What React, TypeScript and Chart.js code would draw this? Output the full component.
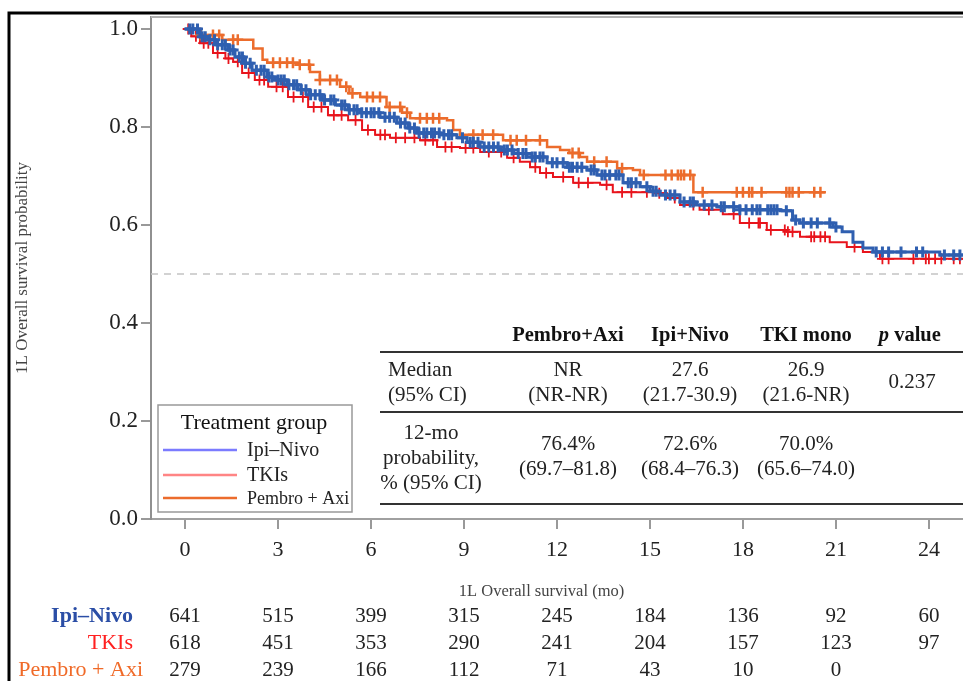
import React, { useEffect, useRef } from "react";
import { Chart, registerables } from "chart.js";
Chart.register(...registerables);

const FONT = "'Liberation Serif', 'Times New Roman', serif";

const SERIES_LABELS = ["Ipi–Nivo", "TKIs", "Pembro + Axi"];
const SERIES_COLORS = ["#2f5fb0", "#e8141c", "#ec6c2c"];
const LEGEND_COLORS = ["#7b7bff", "#ff8585", "#ec6c2c"];
const RISK_COLORS = ["#2b4ea6", "#ff2020", "#f06a28"];
const RISK_BOLD = [true, false, false];

const X_TICKS = [0, 3, 6, 9, 12, 15, 18, 21, 24];
const Y_TICKS = [0, 0.2, 0.4, 0.6, 0.8, 1.0];
const Y_TICK_LABELS = ["0.0", "0.2", "0.4", "0.6", "0.8", "1.0"];
const MEDIAN_LEVEL = 0.5;

// Kaplan-Meier steps (time in months, survival after the drop)
const IPI_T = [0, 0.48, 0.74, 1.0, 1.39, 1.61, 1.9, 2.16, 2.65, 2.9, 3.3, 3.65, 4.0, 4.42, 4.85, 5.26, 5.65, 6.29, 6.84, 7.2, 7.48, 8.23, 8.77, 9.1, 9.52, 10.16, 10.6, 11.03, 11.68, 12.32, 12.97, 13.29, 14.13, 14.68, 15.0, 15.32, 15.97, 16.5, 17.16, 17.9, 19.2, 19.6, 19.84, 20.9, 21.2, 21.55, 21.87, 22.2, 24.35, 25.1];
const IPI_S = [1.0, 0.984, 0.978, 0.968, 0.957, 0.943, 0.93, 0.916, 0.902, 0.896, 0.886, 0.876, 0.866, 0.855, 0.845, 0.835, 0.829, 0.82, 0.808, 0.798, 0.788, 0.784, 0.778, 0.769, 0.759, 0.753, 0.746, 0.739, 0.727, 0.718, 0.712, 0.702, 0.686, 0.678, 0.669, 0.661, 0.647, 0.641, 0.637, 0.631, 0.629, 0.61, 0.604, 0.596, 0.586, 0.565, 0.553, 0.545, 0.539, 0.539];

const TKI_T = [0, 0.2, 0.48, 0.9, 1.3, 1.55, 1.84, 2.25, 2.68, 3.32, 3.97, 4.61, 5.26, 5.71, 6.13, 6.61, 7.58, 8.13, 8.87, 9.52, 10.39, 10.8, 11.13, 11.45, 11.87, 12.52, 13.39, 13.8, 15.1, 15.55, 15.97, 16.6, 17.35, 17.9, 18.77, 19.42, 19.84, 20.8, 21.35, 21.87, 22.42, 25.1];
const TKI_S = [1.0, 0.985, 0.971, 0.951, 0.94, 0.933, 0.91, 0.896, 0.882, 0.861, 0.841, 0.824, 0.814, 0.794, 0.784, 0.778, 0.773, 0.759, 0.757, 0.749, 0.737, 0.729, 0.718, 0.706, 0.698, 0.686, 0.682, 0.667, 0.665, 0.655, 0.641, 0.631, 0.622, 0.604, 0.59, 0.586, 0.576, 0.565, 0.555, 0.545, 0.531, 0.531];

const PEM_T = [0, 0.5, 1.2, 2.2, 2.5, 2.65, 3.7, 4.03, 4.35, 5.0, 5.3, 5.65, 6.5, 7.0, 7.26, 8.45, 8.65, 8.87, 10.26, 11.68, 12.1, 12.4, 12.74, 12.97, 13.94, 14.45, 14.68, 16.4, 20.65];
const PEM_S = [1.0, 0.988, 0.978, 0.96, 0.937, 0.931, 0.927, 0.912, 0.896, 0.882, 0.869, 0.861, 0.841, 0.829, 0.818, 0.814, 0.794, 0.784, 0.773, 0.759, 0.753, 0.747, 0.739, 0.729, 0.716, 0.712, 0.702, 0.667, 0.667];

// Censoring times (months)
const IPI_CENS = [0.15, 0.25, 0.4, 0.55, 0.65, 0.8, 0.95, 1.05, 1.2, 1.3, 1.45, 1.55, 1.75, 1.85, 1.95, 2.1, 2.3, 2.45, 2.55, 2.7, 2.8, 3.0, 3.1, 3.2, 3.35, 3.5, 3.6, 3.75, 3.9, 4.05, 4.2, 4.35, 4.5, 4.7, 4.8, 5.05, 5.15, 5.3, 5.45, 5.55, 5.7, 5.85, 6.0, 6.1, 6.25, 6.45, 6.6, 6.75, 6.95, 7.1, 7.25, 7.4, 7.55, 7.7, 7.8, 7.95, 8.05, 8.2, 8.35, 8.5, 8.6, 8.95, 9.2, 9.3, 9.45, 9.65, 9.8, 9.95, 10.1, 10.3, 10.4, 10.55, 10.75, 10.9, 11.0, 11.2, 11.3, 11.45, 11.55, 11.85, 12.0, 12.2, 12.4, 12.5, 12.65, 12.8, 13.1, 13.2, 13.45, 13.55, 13.7, 13.9, 14.0, 14.3, 14.4, 14.55, 14.9, 15.1, 15.2, 15.5, 15.65, 15.8, 16.1, 16.3, 16.4, 16.75, 17.0, 17.3, 17.4, 17.7, 17.9, 18.1, 18.3, 18.45, 18.55, 18.8, 18.9, 19.0, 19.1, 19.4, 19.7, 19.95, 20.2, 20.4, 20.8, 21.0, 22.3, 22.5, 22.7, 23.1, 23.6, 23.8, 24.5, 24.8, 25.0];
const TKI_CENS = [0.1, 0.35, 0.6, 0.75, 1.05, 1.4, 1.7, 2.05, 2.4, 2.55, 2.95, 3.15, 3.5, 3.8, 4.15, 4.4, 4.8, 5.05, 5.5, 5.9, 6.3, 6.45, 6.8, 7.1, 7.4, 7.75, 8.0, 8.4, 8.6, 9.05, 9.3, 9.8, 10.2, 10.6, 11.3, 11.65, 12.2, 12.7, 13.0, 13.6, 14.1, 14.4, 14.9, 15.3, 15.8, 16.4, 16.9, 17.7, 18.2, 18.5, 18.55, 18.9, 19.35, 19.45, 19.6, 20.2, 20.3, 20.5, 20.65, 21.6, 22.5, 22.7, 23.5, 23.9, 24.0, 24.2, 24.4, 24.8, 25.0];
const PEM_CENS = [0.5, 0.9, 1.1, 1.55, 1.7, 2.84, 3.06, 3.29, 3.48, 3.7, 4.0, 4.35, 4.68, 4.9, 5.2, 5.4, 5.87, 6.06, 6.29, 6.6, 6.94, 7.16, 7.58, 7.8, 8.0, 8.2, 9.3, 9.6, 9.94, 10.5, 10.7, 11.0, 11.45, 12.5, 12.7, 13.2, 13.6, 14.1, 14.8, 15.5, 15.7, 15.9, 16.0, 16.1, 16.3, 16.7, 17.8, 18.0, 18.2, 18.3, 18.6, 19.4, 19.5, 19.6, 19.8, 20.3, 20.5];

// Numbers at risk
const RISK_LABELS = ["Ipi–Nivo", "TKIs", "Pembro + Axi"];
const RISK_IPI = ["641", "515", "399", "315", "245", "184", "136", "92", "60"];
const RISK_TKI = ["618", "451", "353", "290", "241", "204", "157", "123", "97"];
const RISK_PEM = ["279", "239", "166", "112", "71", "43", "10", "0", ""];

// Summary table
const TABLE_HEADERS = ["Pembro+Axi", "Ipi+Nivo", "TKI mono"];
const MEDIAN_VALUES = ["NR", "27.6", "26.9"];
const MEDIAN_CI = ["(NR-NR)", "(21.7-30.9)", "(21.6-NR)"];
const P_VALUE = "0.237";
const PROB_VALUES = ["76.4%", "72.6%", "70.0%"];
const PROB_CI = ["(69.7–81.8)", "(68.4–76.3)", "(65.6–74.0)"];

function stepAt(times: number[], vals: number[], t: number) {
  let v = vals[0];
  for (let i = 0; i < times.length; i++) {
    if (times[i] <= t) v = vals[i];
    else break;
  }
  return v;
}

const overlay = {
  id: "overlay",
  beforeDraw(chart: any) {
    const ctx = chart.ctx;
    ctx.save();
    ctx.fillStyle = "#fff";
    ctx.fillRect(0, 0, chart.width, chart.height);
    ctx.restore();
  },
  beforeDatasetsDraw(chart: any) {
    const { ctx, chartArea: ca, scales } = chart;
    const yy = scales.y.getPixelForValue(MEDIAN_LEVEL);
    ctx.save();
    ctx.setLineDash([7, 6]);
    ctx.strokeStyle = "#c4c4c4";
    ctx.lineWidth = 1.5;
    ctx.beginPath();
    ctx.moveTo(ca.left, yy);
    ctx.lineTo(ca.right, yy);
    ctx.stroke();
    ctx.restore();
  },
  afterDraw(chart: any) {
    const { ctx, chartArea: ca, scales } = chart;
    const x = scales.x;
    ctx.save();
    // outer frame
    ctx.strokeStyle = "#000";
    ctx.lineWidth = 3;
    ctx.beginPath();
    ctx.moveTo(9, chart.height);
    ctx.lineTo(9, 13);
    ctx.lineTo(chart.width, 13);
    ctx.stroke();
    // plot top line
    ctx.strokeStyle = "#b0b0b0";
    ctx.lineWidth = 2;
    ctx.beginPath();
    ctx.moveTo(ca.left, ca.top);
    ctx.lineTo(ca.right, ca.top);
    ctx.stroke();

    // legend box
    ctx.fillStyle = "#fff";
    ctx.fillRect(158, 405, 194, 107);
    ctx.strokeStyle = "#999";
    ctx.lineWidth = 1.5;
    ctx.strokeRect(158, 405, 194, 107);
    ctx.fillStyle = "#111";
    ctx.textBaseline = "middle";
    ctx.textAlign = "center";
    ctx.font = `22px ${FONT}`;
    ctx.fillText("Treatment group", 254, 423);
    const ly = [450, 475, 498];
    const lsize = [20, 20, 18];
    SERIES_LABELS.forEach((lab, i) => {
      ctx.strokeStyle = LEGEND_COLORS[i];
      ctx.lineWidth = 2.5;
      ctx.beginPath();
      ctx.moveTo(163, ly[i]);
      ctx.lineTo(237, ly[i]);
      ctx.stroke();
      ctx.fillStyle = "#222";
      ctx.textAlign = "left";
      ctx.font = `${lsize[i]}px ${FONT}`;
      ctx.fillText(lab, 247, ly[i] + 1);
    });

    // summary table
    const colX = [568, 690, 806];
    const pX = 912;
    ctx.strokeStyle = "#333";
    ctx.lineWidth = 2;
    [352, 412, 504].forEach((yy) => {
      ctx.beginPath();
      ctx.moveTo(380, yy);
      ctx.lineTo(chart.width, yy);
      ctx.stroke();
    });
    ctx.fillStyle = "#111";
    ctx.textAlign = "center";
    ctx.font = `bold 20.5px ${FONT}`;
    TABLE_HEADERS.forEach((h, i) => ctx.fillText(h, colX[i], 336));
    ctx.font = `italic bold 20.5px ${FONT}`;
    ctx.textAlign = "right";
    ctx.fillText("p", pX - 23, 336);
    ctx.font = `bold 20.5px ${FONT}`;
    ctx.textAlign = "left";
    ctx.fillText(" value", pX - 23, 336);
    ctx.font = `21px ${FONT}`;
    ctx.fillStyle = "#222";
    ctx.textAlign = "left";
    ctx.fillText("Median", 388, 370);
    ctx.fillText("(95% CI)", 388, 395);
    ctx.textAlign = "center";
    MEDIAN_VALUES.forEach((v, i) => ctx.fillText(v, colX[i], 370));
    MEDIAN_CI.forEach((v, i) => ctx.fillText(v, colX[i], 395));
    ctx.fillText(P_VALUE, pX, 382);
    ctx.fillText("12-mo", 431, 433);
    ctx.fillText("probability,", 431, 458);
    ctx.fillText("% (95% CI)", 431, 483);
    PROB_VALUES.forEach((v, i) => ctx.fillText(v, colX[i], 444));
    PROB_CI.forEach((v, i) => ctx.fillText(v, colX[i], 469));

    // axis titles
    ctx.fillStyle = "#444";
    ctx.font = `16.5px ${FONT}`;
    ctx.textAlign = "center";
    ctx.fillText("1L Overall survival (mo)", x.getPixelForValue(11.5), 592);
    ctx.save();
    ctx.translate(23, (ca.top + ca.bottom) / 2);
    ctx.rotate(-Math.PI / 2);
    ctx.font = `17px ${FONT}`;
    ctx.fillText("1L Overall survival probability", 0, 0);
    ctx.restore();

    // numbers at risk
    const rows = [RISK_IPI, RISK_TKI, RISK_PEM];
    const rowY = [616, 643, 670];
    const labelRight = [133, 133, 143];
    rows.forEach((row, r) => {
      ctx.textAlign = "right";
      ctx.fillStyle = RISK_COLORS[r];
      ctx.font = `${RISK_BOLD[r] ? "bold " : ""}22px ${FONT}`;
      ctx.fillText(RISK_LABELS[r], labelRight[r], rowY[r]);
      ctx.textAlign = "center";
      ctx.fillStyle = "#222";
      ctx.font = `21px ${FONT}`;
      row.forEach((v, i) => {
        if (v !== "") ctx.fillText(v, x.getPixelForValue(X_TICKS[i]), rowY[r]);
      });
    });
    ctx.restore();
  },
};

function curve(times: number[], vals: number[]) {
  return times.map((t, i) => ({ x: t, y: vals[i] }));
}
function marks(cens: number[], times: number[], vals: number[]) {
  return cens.map((t) => ({ x: t, y: stepAt(times, vals, t) }));
}

export default function App() {
  const ref = useRef<HTMLCanvasElement>(null);
  useEffect(() => {
    if (!ref.current) return;
    const lineDs = (label: string, data: any, color: string, w: number) => ({
      label,
      data,
      borderColor: color,
      backgroundColor: color,
      borderWidth: w,
      stepped: "before" as const,
      pointRadius: 0,
      fill: false,
    });
    const markDs = (label: string, data: any, color: string, w: number, r: number) => ({
      label,
      data,
      showLine: false,
      borderColor: color,
      backgroundColor: color,
      pointStyle: "cross" as const,
      pointRadius: r,
      pointBorderWidth: w,
      pointHoverRadius: r,
    });
    const chart = new Chart(ref.current, {
      type: "line",
      data: {
        datasets: [
          markDs("Ipi–Nivo censored", marks(IPI_CENS, IPI_T, IPI_S), SERIES_COLORS[0], 3, 5.5),
          lineDs(SERIES_LABELS[0], curve(IPI_T, IPI_S), SERIES_COLORS[0], 3),
          markDs("Pembro censored", marks(PEM_CENS, PEM_T, PEM_S), SERIES_COLORS[2], 2.5, 5.5),
          lineDs(SERIES_LABELS[2], curve(PEM_T, PEM_S), SERIES_COLORS[2], 2.5),
          markDs("TKIs censored", marks(TKI_CENS, TKI_T, TKI_S), SERIES_COLORS[1], 1.8, 5.5),
          lineDs(SERIES_LABELS[1], curve(TKI_T, TKI_S), SERIES_COLORS[1], 2),
        ],
      },
      options: {
        animation: false,
        responsive: false,
        maintainAspectRatio: false,
        layout: { autoPadding: false, padding: { top: 17, left: 0, right: 0, bottom: 0 } },
        plugins: { legend: { display: false }, tooltip: { enabled: false } },
        scales: {
          x: {
            type: "linear",
            min: -1.1,
            max: 25.1,
            afterBuildTicks: (s: any) => {
              s.ticks = X_TICKS.map((v) => ({ value: v }));
            },
            afterFit: (s: any) => {
              s.height = 162;
              s.paddingLeft = 0;
              s.paddingRight = 0;
            },
            grid: { drawOnChartArea: false, drawTicks: true, tickLength: 10, color: "#999", lineWidth: 2 },
            border: { display: true, color: "#a0a0a0", width: 2 },
            ticks: {
              autoSkip: false,
              maxRotation: 0,
              padding: 8,
              color: "#222",
              font: { family: FONT, size: 22 },
            },
          },
          y: {
            type: "linear",
            min: 0,
            max: 1.0245,
            afterBuildTicks: (s: any) => {
              s.ticks = Y_TICKS.map((v) => ({ value: v }));
            },
            afterFit: (s: any) => {
              s.width = 151;
              s.paddingTop = 0;
              s.paddingBottom = 0;
            },
            grid: { drawOnChartArea: false, drawTicks: true, tickLength: 10, color: "#999", lineWidth: 2 },
            border: { display: true, color: "#909090", width: 2 },
            ticks: {
              autoSkip: false,
              padding: 3,
              color: "#222",
              font: { family: FONT, size: 23 },
              callback: (v: any) => {
                const i = Y_TICKS.findIndex((t) => Math.abs(t - Number(v)) < 1e-6);
                return i >= 0 ? Y_TICK_LABELS[i] : "";
              },
            },
          },
        },
      },
      plugins: [overlay],
    });
    return () => chart.destroy();
  }, []);
  return (
    <div style={{ position: "fixed", left: 0, top: 0, width: 963, height: 681, background: "#fff" }}>
      <canvas ref={ref} width={963} height={681} style={{ display: "block", width: 963, height: 681 }} />
    </div>
  );
}
